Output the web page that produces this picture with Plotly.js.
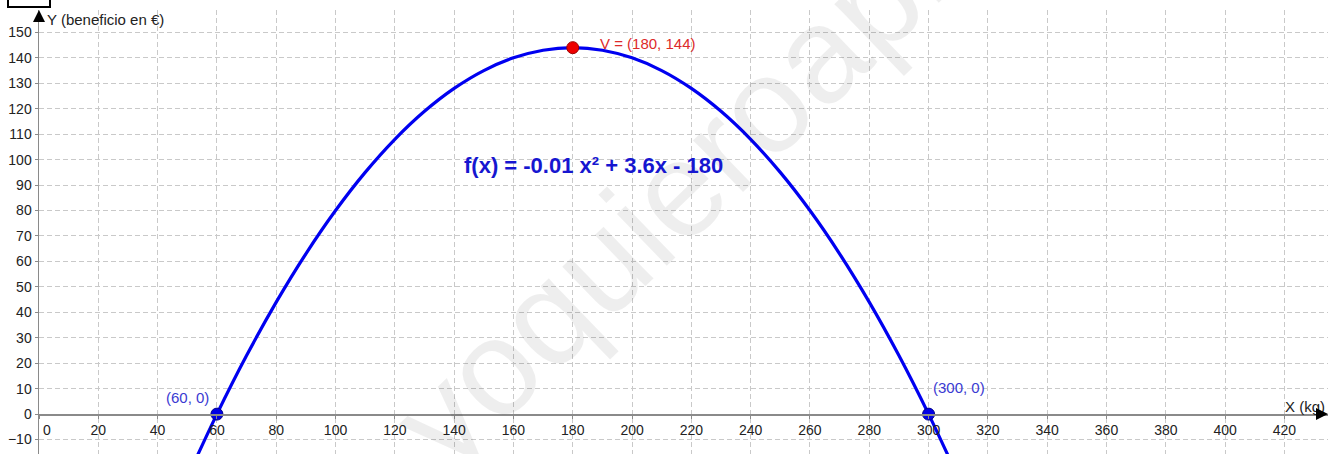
<!DOCTYPE html>
<html>
<head>
<meta charset="utf-8">
<script src="https://cdn.plot.ly/plotly-3.0.1.min.js"></script>
<style>html,body{margin:0;padding:0;background:#fff;}#chart{width:1328px;height:454px;}</style>
</head>
<body>
<div id="chart"></div>
<script>
// ---- data ----
const xTickValues = [0,20,40,60,80,100,120,140,160,180,200,220,240,260,280,300,320,340,360,380,400,420];
const yTickValues = [-10,0,10,20,30,40,50,60,70,80,90,100,110,120,130,140,150];
const curveX = [50,60,70,80,90,100,110,120,130,140,150,160,170,180,190,200,210,220,230,240,250,260,270,280,290,300,310];
const curveY = [-25,0,23,44,63,80,95,108,119,128,135,140,143,144,143,140,135,128,119,108,95,80,63,44,23,0,-25];
const rootX = [60, 300];
const rootY = [0, 0];
const rootLabels = ['(60, 0)', '(300, 0)'];
const vertexX = [180];
const vertexY = [144];
const vertexLabel = 'V = (180, 144)';
const formulaText = 'f(x) = -0.01 x² + 3.6x - 180';
const yAxisLabel = 'Y (beneficio en €)';
const xAxisLabel = 'X (kg)';
const watermark = 'yoquieroaprobar';

// ---- view ----
const xRange = [0, 434.7];
const yRange = [-15.68, 158.8];
const xAxisPos = (0 - yRange[0]) / (yRange[1] - yRange[0]);

const font = 'Liberation Sans, Arial, sans-serif';
const gridColor = '#c9c9c9';
const axisColor = '#8a8a8a';

const xTickText = xTickValues.map(v => v === 0 ? '\u00a0\u00a0\u00a0\u00a00' : String(v));

const traces = [
  {
    x: curveX, y: curveY, type: 'scatter', mode: 'lines',
    line: {color: '#0000f0', width: 3.2, shape: 'spline', smoothing: 1},
    hoverinfo: 'skip'
  },
  {
    x: rootX, y: rootY, type: 'scatter', mode: 'markers', cliponaxis: false,
    marker: {color: '#0000e6', size: 12, line: {color: '#00008a', width: 1}},
    hoverinfo: 'skip'
  },
  {
    x: vertexX, y: vertexY, type: 'scatter', mode: 'markers', cliponaxis: false,
    marker: {color: '#ee0000', size: 12, line: {color: '#a00000', width: 1}},
    hoverinfo: 'skip'
  }
];

const annotations = [
  {text: watermark, x: 247, y: 124, xref: 'x', yref: 'y', showarrow: false,
   textangle: -44, font: {family: font, size: 136, color: 'rgba(0,0,0,0.065)'}},
  {text: rootLabels[0], x: 50.1, y: 6.5, xref: 'x', yref: 'y', showarrow: false,
   font: {family: font, size: 15, color: '#3a3ad2'}},
  {text: rootLabels[1], x: 310.1, y: 10.3, xref: 'x', yref: 'y', showarrow: false,
   font: {family: font, size: 15, color: '#3a3ad2'}},
  {text: vertexLabel, x: 205.2, y: 145.8, xref: 'x', yref: 'y', showarrow: false,
   font: {family: font, size: 15, color: '#dd2a2a'}},
  {text: '<b>' + formulaText + '</b>', x: 187.0, y: 97.5, xref: 'x', yref: 'y', showarrow: false,
   font: {family: font, size: 22, color: '#1616d0'}},
  {text: yAxisLabel, x: 2.0, y: 155.2, xref: 'x', yref: 'y', xanchor: 'left', showarrow: false,
   font: {family: font, size: 15, color: '#222'}},
  {text: xAxisLabel, x: 419.6, y: 2.8, xref: 'x', yref: 'y', xanchor: 'left', showarrow: false,
   font: {family: font, size: 15, color: '#222'}},
  // axis arrows
  {text: '', x: 0, y: yRange[1], xref: 'x', yref: 'y', showarrow: true, ax: 0, ay: 10,
   arrowhead: 2, arrowsize: 1.6, arrowwidth: 1.5, arrowcolor: '#000'},
  {text: '', x: xRange[1], y: 0, xref: 'x', yref: 'y', showarrow: true, ax: -12, ay: 0,
   arrowhead: 2, arrowsize: 1.6, arrowwidth: 1.5, arrowcolor: '#000'}
];

const shapes = [
  {type: 'rect', xref: 'paper', yref: 'paper',
   x0: (8 - 39) / 1289, x1: (50 - 39) / 1289, y0: (454 - 7) / 444, y1: (454 + 1) / 444,
   line: {color: '#000', width: 2}, fillcolor: 'rgba(0,0,0,0)'}
];

const layout = {
  width: 1328, height: 454,
  margin: {l: 39, r: 0, t: 10, b: 0, pad: 0},
  paper_bgcolor: '#fff', plot_bgcolor: '#fff',
  showlegend: false,
  font: {family: font, size: 14, color: '#222'},
  xaxis: {
    range: xRange, anchor: 'free', position: xAxisPos,
    tickmode: 'array', tickvals: xTickValues, ticktext: xTickText,
    ticks: 'outside', ticklen: 3, tickcolor: axisColor,
    showline: true, linecolor: axisColor, linewidth: 1.5,
    showgrid: true, gridcolor: gridColor, gridwidth: 1, griddash: '5px,3px',
    zeroline: false, fixedrange: true,
    tickfont: {family: font, size: 14, color: '#222'}
  },
  yaxis: {
    range: yRange,
    tickmode: 'array', tickvals: yTickValues,
    ticks: 'outside', ticklen: 3, tickcolor: axisColor,
    showline: true, linecolor: axisColor, linewidth: 1.5,
    showgrid: true, gridcolor: gridColor, gridwidth: 1, griddash: '5px,3px',
    zeroline: false, fixedrange: true,
    tickfont: {family: font, size: 14, color: '#222'}
  },
  annotations: annotations,
  shapes: shapes
};

Plotly.newPlot('chart', traces, layout, {staticPlot: true, displayModeBar: false});
</script>
</body>
</html>
